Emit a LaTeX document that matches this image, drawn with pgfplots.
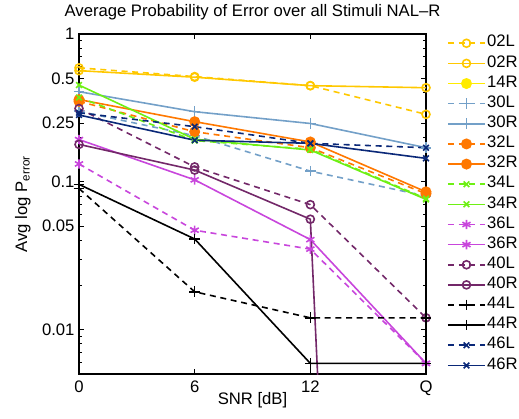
\documentclass[border=0pt]{standalone}
\usepackage{pgfplots}
\pgfplotsset{compat=1.18}
\usepackage{fontspec}
\setmainfont{Liberation Sans}
\definecolor{gold02}{RGB}{255,200,0}
\definecolor{yellow14}{RGB}{255,235,0}
\definecolor{blue30}{RGB}{115,160,200}
\definecolor{orange32}{RGB}{255,120,0}
\definecolor{green34}{RGB}{110,240,20}
\definecolor{magenta36}{RGB}{200,70,220}
\definecolor{purple40}{RGB}{115,40,105}
\definecolor{navy46}{RGB}{10,40,120}
\begin{document}
\fontsize{12.5}{14}\selectfont
\begin{tikzpicture}
\begin{axis}[
  scale only axis,
  width=260.25pt, height=255pt,
  ymode=log,
  xmin=0, xmax=3, ymin=0.005, ymax=1,
  xtick={0,1,2,3}, xticklabels={0,6,12,Q},
  ytick={0.01,0.05,0.1,0.25,0.5,1},
  yticklabels={\textrm{0.01},\textrm{0.05},\textrm{0.1},\textrm{0.25},\textrm{0.5},\textrm{1}},
  minor ytick={0.006,0.007,0.008,0.009,0.02,0.03,0.04,0.06,0.07,0.08,0.09,0.2,0.3,0.4,0.6,0.7,0.8,0.9},
  tick align=inside,
  major tick length=4pt, minor tick length=2.5pt,
  axis line style={line width=0.8pt},
  every tick/.style={black, line width=0.6pt},
  title={Average Probability of Error over all Stimuli NAL\textendash R},
  xlabel={SNR [dB]},
  ylabel={Avg log P\textsubscript{error}},
  xticklabel style={yshift=-1pt},
  yticklabel style={xshift=1pt},
  xlabel style={yshift=11pt},
  legend style={draw=none, fill=none, at={(1.06,0.998)}, anchor=north west,
    row sep=2.6pt, inner sep=0pt,
    nodes={inner sep=1pt, text height=8pt, text depth=2.5pt},
    cells={anchor=west}},
  legend image code/.code={\draw[mark repeat=2,mark phase=2,#1] plot coordinates {(0cm,0cm) (0.49cm,0cm) (0.98cm,0cm)};},
  every axis plot/.append style={line width=1.2pt},
  clip=true,
]
\coordinate (SW) at (rel axis cs:0,0);
\coordinate (NE) at (rel axis cs:1,1);
% 02L
\addplot[gold02, dash pattern=on 4.5pt off 3.5pt, mark=o, mark size=3pt, mark options={solid}] coordinates {(0,0.59) (1,0.515) (2,0.447) (3,0.286)};
\addlegendentry{02L}
% 02R
\addplot[gold02, solid, mark=o, mark size=3pt] coordinates {(0,0.565) (1,0.51) (2,0.447) (3,0.433)};
\addlegendentry{02R}
% 14R (no visible data)
\addlegendimage{yellow14, solid, line width=1.2pt, mark=*, mark size=3.5pt}
\addlegendentry{14R}
% 30L
\addplot[blue30, dash pattern=on 4.5pt off 3.5pt, mark=+, mark size=4pt, mark options={solid}] coordinates {(0,0.30) (1,0.205) (2,0.118) (3,0.08)};
\addlegendentry{30L}
% 30R
\addplot[blue30, solid, mark=+, mark size=4pt] coordinates {(0,0.407) (1,0.298) (2,0.248) (3,0.17)};
\addlegendentry{30R}
% 32L
\addplot[orange32, dash pattern=on 4.5pt off 3.5pt, mark=*, mark size=3.5pt, mark options={solid}] coordinates {(0,0.35) (1,0.218) (2,0.17) (3,0.083)};
\addlegendentry{32L}
% 32R
\addplot[orange32, solid, mark=*, mark size=3.5pt] coordinates {(0,0.36) (1,0.255) (2,0.186) (3,0.0855)};
\addlegendentry{32R}
% 34L
\addplot[green34, dash pattern=on 4.5pt off 3.5pt, mark=x, mark size=3pt, mark options={solid}] coordinates {(0,0.372) (1,0.19) (2,0.166) (3,0.077)};
\addlegendentry{34L}
% 34R
\addplot[green34, solid, mark=x, mark size=3pt] coordinates {(0,0.451) (1,0.194) (2,0.164) (3,0.076)};
\addlegendentry{34R}
% 36L
\addplot[magenta36, dash pattern=on 4.5pt off 3.5pt, mark=asterisk, mark size=3.5pt, mark options={solid}] coordinates {(0,0.132) (1,0.047) (2,0.035) (3,0.0059)};
\addlegendentry{36L}
% 36R
\addplot[magenta36, solid, mark=asterisk, mark size=3.5pt] coordinates {(0,0.193) (1,0.103) (2,0.0406) (3,0.0059)};
\addlegendentry{36R}
% 40L
\addplot[purple40, dash pattern=on 4.5pt off 3.5pt, mark=o, mark size=3pt, mark options={solid}] coordinates {(0,0.313) (1,0.126) (2,0.070) (3,0.012)};
\addlegendentry{40L}
% 40R
\addplot[purple40, solid, mark=o, mark size=3pt] coordinates {(0,0.179) (1,0.12) (2,0.0558) (3,1e-18)};
\addlegendentry{40R}
% 44L
\addplot[black, dash pattern=on 4.5pt off 3.5pt, mark=+, mark size=4pt, mark options={solid}] coordinates {(0,0.090) (1,0.018) (2,0.012) (3,0.012)};
\addlegendentry{44L}
% 44R
\addplot[black, solid, mark=+, mark size=4pt] coordinates {(0,0.096) (1,0.041) (2,0.0059) (3,0.0059)};
\addlegendentry{44R}
% 46L
\addplot[navy46, dash pattern=on 4.5pt off 3.5pt, mark=x, mark size=3pt, mark options={solid}] coordinates {(0,0.293) (1,0.236) (2,0.182) (3,0.170)};
\addlegendentry{46L}
% 46R
\addplot[navy46, solid, mark=x, mark size=3pt] coordinates {(0,0.283) (1,0.191) (2,0.182) (3,0.144)};
\addlegendentry{46R}
\end{axis}
\pgfresetboundingbox
\path[use as bounding box] ([shift={(-59.25pt,-33.75pt)}]SW) rectangle ([shift={(69.75pt,25.5pt)}]NE);
\end{tikzpicture}
\end{document}
